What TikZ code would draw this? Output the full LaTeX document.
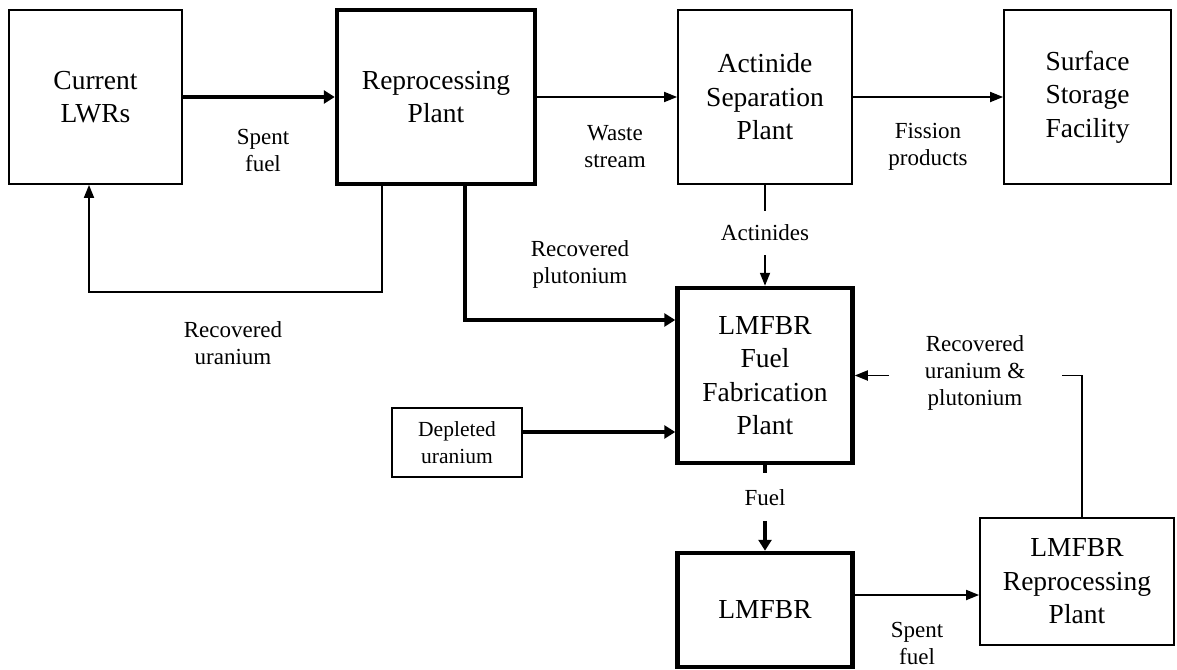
\documentclass[tikz,border=0pt]{standalone}
\usepackage{fontspec}
\setmainfont{Liberation Serif}
\usetikzlibrary{arrows.meta}
\begin{document}
\begin{tikzpicture}[x=1pt,y=-1pt,
  plant/.style={rectangle, draw=black, line width=1.8pt, align=center, inner sep=0pt, font=\fontsize{27.5}{33.5}\selectfont},
  mainplant/.style={plant, line width=4.5pt},
  tag/.style={align=center, inner sep=0pt, font=\fontsize{23}{27}\selectfont},
  feed/.style={line width=1.8pt},
  mainfeed/.style={line width=4.5pt},
  flow/.style={feed, -{Triangle[length=13pt,width=10pt]}},
  mainflow/.style={mainfeed, -{Triangle[length=11pt,width=13pt]}}]
\useasboundingbox (0,0) rectangle (1177,669);
\node [plant, minimum width=173pt, minimum height=174pt] (lwr) at (95.5,97) {Current\\LWRs};
\node [mainplant, minimum width=198pt, minimum height=174pt] (repro) at (436,97) {Reprocessing\\Plant};
\node [plant, minimum width=174pt, minimum height=174pt] (actsep) at (765,97) {Actinide\\Separation\\Plant};
\node [plant, minimum width=167pt, minimum height=174pt] (surf) at (1087.5,97) {Surface\\Storage\\Facility};
\node [mainplant, minimum width=175pt, minimum height=175pt] (fab) at (765,375.5) {LMFBR\\Fuel\\Fabrication\\Plant};
\node [plant, minimum width=130pt, minimum height=69pt, font=\fontsize{21.5}{27}\selectfont] (dep) at (457,442.5) {Depleted\\uranium};
\node [mainplant, minimum width=175pt, minimum height=114pt] (fbr) at (765,610) {LMFBR};
\node [plant, minimum width=194pt, minimum height=127pt] (fbrrep) at (1077,581.5) {LMFBR\\Reprocessing\\Plant};
\node [tag] (spent) at (263,150) {Spent\\fuel};
\node [tag] (waste) at (615,147) {Waste\\stream};
\node [tag] (fission) at (928,147) {Fission\\products};
\node [tag] (recu) at (233,343.5) {Recovered\\uranium};
\node [tag] (recpu) at (580,264) {Recovered\\plutonium};
\node [tag] (actin) at (765,233) {Actinides};
\node [tag] (fuel) at (765,498) {Fuel};
\node [tag] (recupu) at (975,373) {Recovered\\uranium \&\\plutonium};
\node [tag] (spentfbr) at (917,643.5) {Spent\\fuel};
\coordinate (uturn) at (89,292);
\coordinate (upuend) at (1062,375.5);
\coordinate (upustart) at (889,375.5);
\draw [mainflow] (lwr) -- (repro);
\draw [flow] (repro) -- (actsep);
\draw [flow] (actsep) -- (surf);
\draw [flow] ([xshift=-54pt]repro.south) |- (uturn) -- ([xshift=-6.5pt]lwr.south);
\draw [mainflow] ([xshift=29pt]repro.south) |- ([yshift=55.5pt]fab.west);
\draw [feed] (actsep.south) -- ([yshift=14pt]actin.north);
\draw [flow] ([yshift=-14pt]actin.south) -- (fab.north);
\draw [mainflow] ([yshift=10.5pt]dep.east) -- ([yshift=-56.5pt]fab.west);
\draw [mainfeed] (fab.south) -- ([yshift=17pt]fuel.north);
\draw [mainflow] ([yshift=-14.5pt]fuel.south) -- (fbr.north);
\draw [flow] ([yshift=15pt]fbr.east) -- ([yshift=-13.5pt]fbrrep.west);
\draw [feed] ([xshift=5pt]fbrrep.north) |- (upuend);
\draw [flow] (upustart) -- (fab.east);
\end{tikzpicture}
\end{document}
